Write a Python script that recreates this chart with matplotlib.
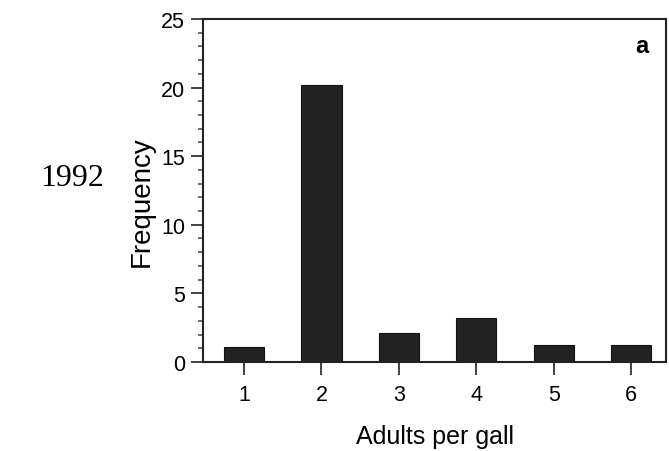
import numpy as np
import matplotlib.pyplot as plt
from matplotlib.ticker import MultipleLocator

# data
adults = [1, 2, 3, 4, 5, 6]
freq = [1.1, 20.2, 2.1, 3.2, 1.2, 1.2]
year = '1992'
panel = 'a'

plt.rcParams['font.family'] = ['Liberation Sans', 'DejaVu Sans']

fig = plt.figure(figsize = (6.69, 4.52), dpi = 100)
ax = fig.add_axes([0.3034, 0.197, 0.6921, 0.7588])

ax.bar(adults, freq, width = 0.52, color = '#222222', edgecolor = '#111111', linewidth = 0.8)

ax.set_xlim(0.47, 6.45)
ax.set_ylim(0, 25)
ax.set_xticks(adults)
ax.yaxis.set_major_locator(MultipleLocator(5))
ax.yaxis.set_minor_locator(MultipleLocator(1))

ax.tick_params(axis = 'both', which = 'major', direction = 'out', length = 9, width = 1.3,
               labelsize = 15.5, color = '#333333')
ax.tick_params(axis = 'y', which = 'major', pad = 4)
ax.tick_params(axis = 'x', which = 'major', pad = 7)
ax.tick_params(axis = 'y', which = 'minor', direction = 'out', length = 3.5, width = 1.1, color = '#444444')

for s in ax.spines.values():
    s.set_linewidth(1.5)
    s.set_color('#222222')

ax.set_ylabel('Frequency', fontsize = 20, va = 'center')
ax.yaxis.set_label_coords(-0.132, 0.469)
ax.set_xlabel('Adults per gall', fontsize = 18, va = 'center')
ax.xaxis.set_label_coords(0.501, -0.215)

ax.text(0.948, 0.924, panel, transform = ax.transAxes, fontsize = 17, fontweight = 'bold',
        ha = 'center', va = 'center')
fig.text(0.108, 0.604, year, fontsize = 23, family = 'Liberation Serif', ha = 'center', va = 'center')

fig.savefig('out.png', dpi = 100)
